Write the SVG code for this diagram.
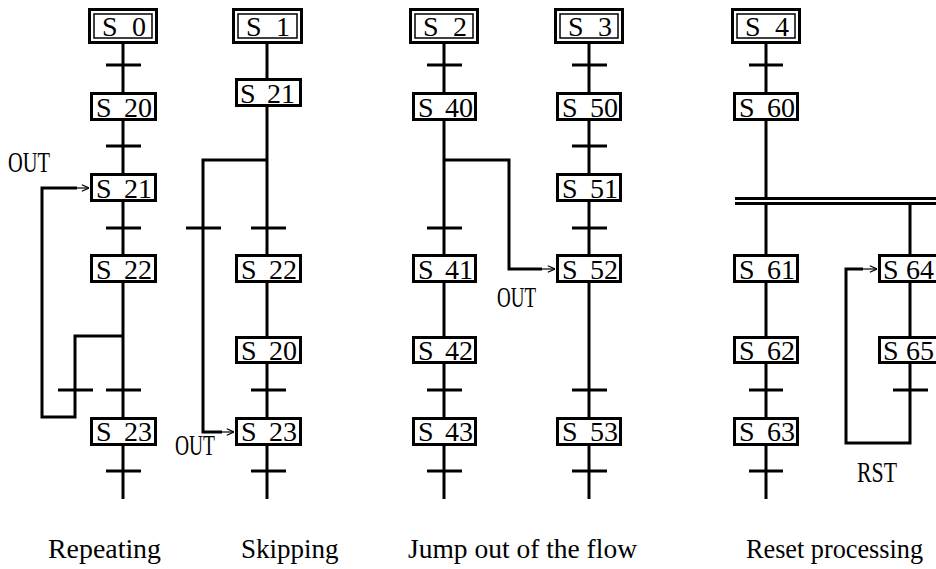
<svg xmlns="http://www.w3.org/2000/svg" width="936" height="569" viewBox="0 0 936 569">
<style>
.ln{fill:none;stroke:#000;stroke-width:3}
.th{fill:none;stroke:#000;stroke-width:1.2}
.bx{fill:#fff;stroke:#000;stroke-width:3}
.bi{fill:none;stroke:#000;stroke-width:1.5}
.t{font-family:"Liberation Serif","Times New Roman",serif;font-size:28px;fill:#000}
.lb{font-family:"Liberation Serif","Times New Roman",serif;font-size:29px;fill:#000}
.cap{font-family:"Liberation Serif","Times New Roman",serif;font-size:27px;fill:#000}
</style>
<defs>
<marker id="arr" viewBox="0 0 10 10" refX="10" refY="5" markerWidth="8" markerHeight="8" markerUnits="userSpaceOnUse" orient="auto">
<path d="M1,1 L10,5 L1,9" fill="none" stroke="#000" stroke-width="1.5"/>
</marker>
</defs>
<rect width="936" height="569" fill="#fff"/>
<g id="connectors">
<path class="ln" d="M123,43 V499"/>
<path class="ln" d="M106,65 H141 M106,146 H141 M106,228 H141 M106,390 H141 M106,471 H141"/>
<path class="ln" d="M123,336 H75 V417 H42 V188 H77"/>
<path class="ln" d="M58,390 H93"/>
<path class="th" d="M77,188 H89" marker-end="url(#arr)"/>
<path class="ln" d="M267,43 V499"/>
<path class="ln" d="M267,160 H203 V432 H222"/>
<path class="th" d="M222,432 H234" marker-end="url(#arr)"/>
<path class="ln" d="M186,228 H221 M251,228 H286 M251,390 H286 M251,471 H286"/>
<path class="ln" d="M444,43 V499"/>
<path class="ln" d="M427,65 H462 M427,228 H462 M427,390 H462 M427,471 H462"/>
<path class="ln" d="M444,160 H509 V269 H542"/>
<path class="th" d="M542,269 H555" marker-end="url(#arr)"/>
<path class="ln" d="M589,43 V499"/>
<path class="ln" d="M572,65 H607 M572,146 H607 M572,228 H607 M572,390 H607 M572,471 H607"/>
<path class="ln" d="M766,43 V198.5"/>
<path class="ln" d="M735,198.5 H936 M735,203.5 H936"/>
<path class="ln" d="M766,203 V499"/>
<path class="ln" d="M749,65 H783 M749,390 H783 M749,471 H783"/>
<path class="ln" d="M910,203 V443 H846 V269 H863"/>
<path class="th" d="M863,269 H877" marker-end="url(#arr)"/>
<path class="ln" d="M893,390 H928"/>
</g>
<g id="S0"><rect class="bx" x="89.5" y="9.5" width="67" height="33"/><rect class="bi" x="94" y="14" width="58" height="24"/><text class="t" x="102" y="36">S <tspan x="132">0</tspan></text></g>
<g id="S1"><rect class="bx" x="233.5" y="9.5" width="68" height="33"/><rect class="bi" x="238" y="14" width="59" height="24"/><text class="t" x="246" y="36">S <tspan x="276">1</tspan></text></g>
<g id="S2"><rect class="bx" x="410.5" y="9.5" width="67" height="33"/><rect class="bi" x="415" y="14" width="58" height="24"/><text class="t" x="423" y="36">S <tspan x="453">2</tspan></text></g>
<g id="S3"><rect class="bx" x="555.5" y="9.5" width="67" height="33"/><rect class="bi" x="560" y="14" width="58" height="24"/><text class="t" x="568" y="36">S <tspan x="598">3</tspan></text></g>
<g id="S4"><rect class="bx" x="732.5" y="9.5" width="67" height="33"/><rect class="bi" x="737" y="14" width="58" height="24"/><text class="t" x="745" y="36">S <tspan x="775">4</tspan></text></g>
<g id="c1-S20"><rect class="bx" x="91.5" y="93.5" width="64" height="26"/><text class="t" x="96" y="117">S <tspan x="124">20</tspan></text></g>
<g id="c1-S21"><rect class="bx" x="91.5" y="174.5" width="64" height="26"/><text class="t" x="96" y="198">S <tspan x="124">21</tspan></text></g>
<g id="c1-S22"><rect class="bx" x="91.5" y="255.5" width="64" height="26"/><text class="t" x="96" y="279">S <tspan x="124">22</tspan></text></g>
<g id="c1-S23"><rect class="bx" x="91.5" y="418.5" width="64" height="26"/><text class="t" x="96" y="441">S <tspan x="124">23</tspan></text></g>
<g id="c2-S21"><rect class="bx" x="236.5" y="79.5" width="64" height="26"/><text class="t" x="240" y="103">S <tspan x="267">21</tspan></text></g>
<g id="c2-S22"><rect class="bx" x="236.5" y="255.5" width="64" height="26"/><text class="t" x="241" y="279">S <tspan x="269">22</tspan></text></g>
<g id="c2-S20"><rect class="bx" x="236.5" y="337.5" width="64" height="25"/><text class="t" x="241" y="360">S <tspan x="269">20</tspan></text></g>
<g id="c2-S23"><rect class="bx" x="236.5" y="418.5" width="64" height="26"/><text class="t" x="241" y="441">S <tspan x="269">23</tspan></text></g>
<g id="S40"><rect class="bx" x="413.5" y="93.5" width="62" height="26"/><text class="t" x="418" y="117">S <tspan x="445">40</tspan></text></g>
<g id="S41"><rect class="bx" x="413.5" y="255.5" width="62" height="26"/><text class="t" x="418" y="279">S <tspan x="445">41</tspan></text></g>
<g id="S42"><rect class="bx" x="413.5" y="337.5" width="62" height="25"/><text class="t" x="418" y="360">S <tspan x="445">42</tspan></text></g>
<g id="S43"><rect class="bx" x="413.5" y="418.5" width="62" height="26"/><text class="t" x="418" y="441">S <tspan x="445">43</tspan></text></g>
<g id="S50"><rect class="bx" x="557.5" y="93.5" width="63" height="26"/><text class="t" x="562" y="117">S <tspan x="590">50</tspan></text></g>
<g id="S51"><rect class="bx" x="557.5" y="174.5" width="63" height="26"/><text class="t" x="562" y="198">S <tspan x="590">51</tspan></text></g>
<g id="S52"><rect class="bx" x="557.5" y="255.5" width="63" height="26"/><text class="t" x="562" y="279">S <tspan x="590">52</tspan></text></g>
<g id="S53"><rect class="bx" x="557.5" y="418.5" width="63" height="26"/><text class="t" x="562" y="441">S <tspan x="590">53</tspan></text></g>
<g id="S60"><rect class="bx" x="734.5" y="93.5" width="63" height="26"/><text class="t" x="739" y="117">S <tspan x="767">60</tspan></text></g>
<g id="S61"><rect class="bx" x="734.5" y="255.5" width="63" height="26"/><text class="t" x="739" y="279">S <tspan x="767">61</tspan></text></g>
<g id="S62"><rect class="bx" x="734.5" y="337.5" width="63" height="25"/><text class="t" x="739" y="360">S <tspan x="767">62</tspan></text></g>
<g id="S63"><rect class="bx" x="734.5" y="418.5" width="63" height="26"/><text class="t" x="739" y="441">S <tspan x="767">63</tspan></text></g>
<g id="S64"><rect class="bx" x="879.5" y="255.5" width="63" height="26"/><text class="t" x="883" y="279">S <tspan x="906">64</tspan></text></g>
<g id="S65"><rect class="bx" x="879.5" y="337.5" width="63" height="25"/><text class="t" x="883" y="360">S <tspan x="906">65</tspan></text></g>
<g id="labels">
<text class="lb" x="8" y="172" textLength="42" lengthAdjust="spacingAndGlyphs">OUT</text>
<text class="lb" x="175" y="455" textLength="40" lengthAdjust="spacingAndGlyphs">OUT</text>
<text class="lb" x="497" y="307" textLength="39" lengthAdjust="spacingAndGlyphs">OUT</text>
<text class="lb" x="857" y="482" textLength="40" lengthAdjust="spacingAndGlyphs">RST</text>
</g>
<g id="captions">
<text class="cap" x="48" y="558" textLength="113" lengthAdjust="spacingAndGlyphs">Repeating</text>
<text class="cap" x="241" y="558">Skipping</text>
<text class="cap" x="408" y="558" textLength="229" lengthAdjust="spacingAndGlyphs">Jump out of the flow</text>
<text class="cap" x="746" y="558" textLength="177" lengthAdjust="spacingAndGlyphs">Reset processing</text>
</g>
</svg>
